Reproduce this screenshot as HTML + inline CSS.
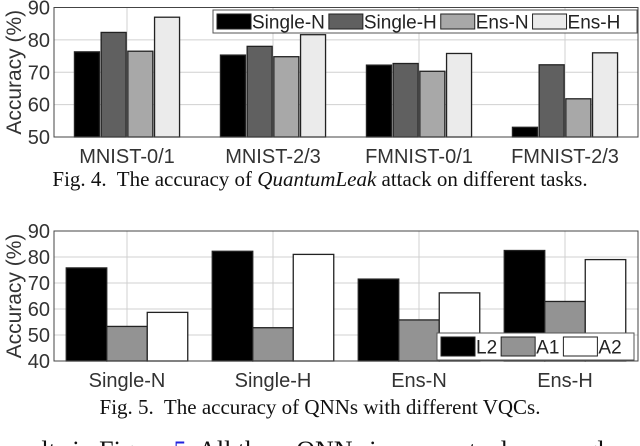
<!DOCTYPE html>
<html><head><meta charset="utf-8"><style>
body{margin:0;background:#fff;width:640px;height:446px;overflow:hidden;}
svg{display:block}
</style></head><body>
<svg id="s" width="640" height="446" viewBox="0 0 640 446" font-family="Liberation Sans, sans-serif"></svg>
<script>
const cats1=["MNIST-0/1","MNIST-2/3","FMNIST-0/1","FMNIST-2/3"];
const series1=["Single-N","Single-H","Ens-N","Ens-H"];
const singleN=[76.3,75.3,72.2,53];
const singleH=[82.3,78,72.7,72.3];
const ensN=[76.5,74.8,70.3,61.8];
const ensH=[87,81.6,75.8,76];
const ticks1=[50,60,70,80,90];
const cats2=["Single-N","Single-H","Ens-N","Ens-H"];
const series2=["L2","A1","A2"];
const l2=[75.8,82.2,71.5,82.5];
const a1=[53.3,52.8,55.8,62.9];
const a2=[58.7,81,66.2,79];
const ticks2=[40,50,60,70,80,90];

const NS="http://www.w3.org/2000/svg";
const svg=document.getElementById('s');
function mk(t,a,p){const e=document.createElementNS(NS,t);for(const k in a)e.setAttribute(k,a[k]);(p||svg).appendChild(e);return e;}

function chart(o){
  const g=mk('g',{});
  
  
  const L=54,R=638,T=o.top,B=o.bottom;
  const y=v=>B-(v-o.min)/(o.max-o.min)*(B-T);
  const gw=(R-L)/o.cats.length;
  const cx=i=>L+gw*(i+0.5);
  o.ticks.forEach(t=>{const yy=y(t);const l=mk('line',{x1:L,x2:R,y1:yy,y2:yy,stroke:'#d0d0d0','stroke-width':1},g);
    
    const tx=mk('text',{x:L-4,y:yy+7,'text-anchor':'end','font-size':20,fill:'#333'},g);tx.textContent=t;
    });
  o.cats.forEach((c,i)=>{const l=mk('line',{x1:cx(i),x2:cx(i),y1:T,y2:B,stroke:'#d0d0d0','stroke-width':1},g);
    
    const tx=mk('text',{x:cx(i),y:B+26,'text-anchor':'middle','font-size':20,fill:'#333'},g);tx.textContent=c;
    });
  const n=o.data.length;
  o.cats.forEach((c,i)=>{o.data.forEach((arr,j)=>{
    const x0=cx(i)-o.step*n/2+j*o.step+(o.step-o.bw)/2;
    const r=mk('rect',{x:x0,y:y(arr[i]),width:o.bw,height:B-y(arr[i]),fill:o.colors[j],stroke:'#222','stroke-width':1.3},g);
    
    });});
  const bx=mk('rect',{x:L,y:T,width:R-L,height:B-T,fill:'none',stroke:'#444','stroke-width':1},g);
  
  const yt=mk('text',{x:0,y:0,transform:`translate(21,${(T+B)/2}) rotate(-90)`,'text-anchor':'middle','font-size':21,fill:'#333'},g);
  yt.textContent='Accuracy (%)';
  const lg=mk('g',{},g);
  mk('rect',{x:o.leg.x,y:o.leg.y,width:o.leg.w,height:o.leg.h,fill:'#fff',stroke:'#555','stroke-width':1},lg);
  let lx=o.leg.x+4;
  o.series.forEach((s,j)=>{const e=mk('g',{},lg);
    mk('rect',{x:lx,y:o.leg.y+4,width:34,height:o.leg.h-8,fill:o.colors[j],stroke:'#222','stroke-width':1},e);
    const t=mk('text',{x:lx+35,y:o.leg.y+o.leg.h/2+7,'font-size':19,fill:'#222'},e);t.textContent=s;
    lx+=35+t.getComputedTextLength()+4;});
}
chart({name:'chart-fig4',cats:cats1,series:series1,data:[singleN,singleH,ensN,ensH],colors:['#000','#606060','#a8a8a8','#ebebeb'],
  top:7.5,bottom:137,min:50,max:90,ticks:ticks1,step:26.7,bw:25,leg:{x:213,y:10,w:424,h:23}});
chart({name:'chart-fig5',cats:cats2,series:series2,data:[l2,a1,a2],colors:['#000','#939393','#fff'],
  top:231,bottom:361,min:40,max:90,ticks:ticks2,step:40.5,bw:40.5,leg:{x:437,y:333,w:197,h:27}});
function txt(x,y,s,a,name){const t=mk('text',Object.assign({x:x,y:y,'font-family':'Liberation Serif, serif','font-size':21,fill:'#111','text-anchor':'middle'},a||{}));t.setAttributeNS('http://www.w3.org/XML/1998/namespace','xml:space','preserve');t.innerHTML=s;return t;}
txt(320,186,'Fig. 4.  The accuracy of <tspan font-style="italic">QuantumLeak</tspan> attack on different tasks.',{},'caption-fig4');
txt(320,414,'Fig. 5.  The accuracy of QNNs with different VQCs.',{},'caption-fig5');
txt(-2,459,'results in Figure <tspan fill="#2222dd">5</tspan>. All three QNNs incorporate dense angle',{'text-anchor':'start','font-size':26},'body-text');
</script>
</body></html>
